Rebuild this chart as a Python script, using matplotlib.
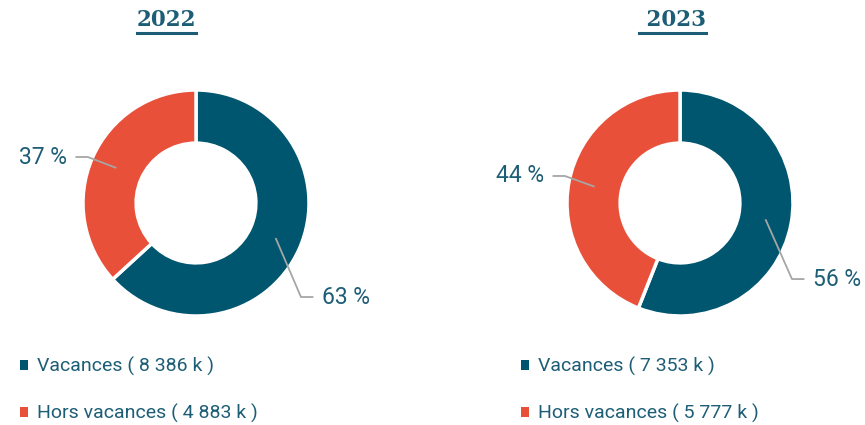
import matplotlib.pyplot as plt
from matplotlib.lines import Line2D
import numpy as np

years = ["2022", " 2023"]
categories = ["Vacances", "Hors vacances"]
values_2022 = [8386, 4883]   # milliers
values_2023 = [7353, 5777]
pct_2022 = [63, 37]
pct_2023 = [56, 44]

teal = "#00566F"
red = "#E8503A"
txt = "#1D5E76"
grey = "#A6A6A6"

W, H = 865, 425
fig = plt.figure(figsize=(W / 100, H / 100), dpi=100)

R = 113  # rayon extérieur en pixels
half = 200


def donut(cx, cy, values, pcts, label_pos, legend_x, title, title_x):
    ax = fig.add_axes([(cx - half) / W, 1 - (cy + half) / H, 2 * half / W, 2 * half / H])
    lim = half / R
    wedges, _ = ax.pie(values, radius=1, startangle=90, counterclock=False,
                       colors=[teal, red],
                       wedgeprops=dict(width=0.47, edgecolor="white", linewidth=2.5))
    ax.set_xlim(-lim, lim)
    ax.set_ylim(-lim, lim)
    ax.set_aspect("equal")
    ax.axis("off")

    # étiquettes avec lignes de rappel
    for w, p, (ex, ey, side) in zip(wedges, pcts, label_pos):
        ang = np.deg2rad((w.theta1 + w.theta2) / 2)
        sx, sy = 0.77 * np.cos(ang), 0.77 * np.sin(ang)
        endx = ex + 0.11 * side
        ax.plot([sx, ex, endx], [sy, ey, ey], color=grey, lw=1.3,
                clip_on=False, solid_capstyle="butt")
        ax.text(endx + 0.075 * side, ey, f"{p} %", color=txt, fontsize=16.5,
                family="Roboto", ha="left" if side > 0 else "right",
                va="center", clip_on=False)

    labels = [f"{c} ( {v:,} k )".replace(",", " ") for c, v in zip(categories, values)]
    leg = ax.legend(wedges, labels, loc="center left",
                    bbox_to_anchor=(legend_x / W, 1 - 390 / H),
                    bbox_transform=fig.transFigure, frameon=False,
                    prop=dict(family="Roboto", size=14),
                    handlelength=0.4, handleheight=0.4, handletextpad=0.45,
                    labelspacing=1.45, borderpad=0, borderaxespad=0)
    for t in leg.get_texts():
        t.set_color(txt)
    for h in leg.legend_handles:
        h.set_edgecolor("none")

    t = fig.text(title_x / W, 1 - 20 / H, title, ha="center", va="center",
                 family="DejaVu Serif", weight="bold", fontsize=15.5, color=txt)
    return t


t1 = donut(196, 203, values_2022, pct_2022,
           [(0.929, -0.832, 1), (-0.957, 0.407, -1)], 20, years[0], 166.5)
t2 = donut(680, 203, values_2023, pct_2023,
           [(0.991, -0.673, 1), (-1.018, 0.239, -1)], 521, years[1], 672.5)

# soulignement des titres
fig.canvas.draw()
r = fig.canvas.get_renderer()
for t in (t1, t2):
    bb = t.get_window_extent(r)
    y = 1 - 32.5 / H
    fig.add_artist(Line2D([bb.x0 / W, bb.x1 / W], [y, y], color=txt, lw=2.2,
                          transform=fig.transFigure))

fig.savefig("out.png", dpi=100, facecolor="white")
